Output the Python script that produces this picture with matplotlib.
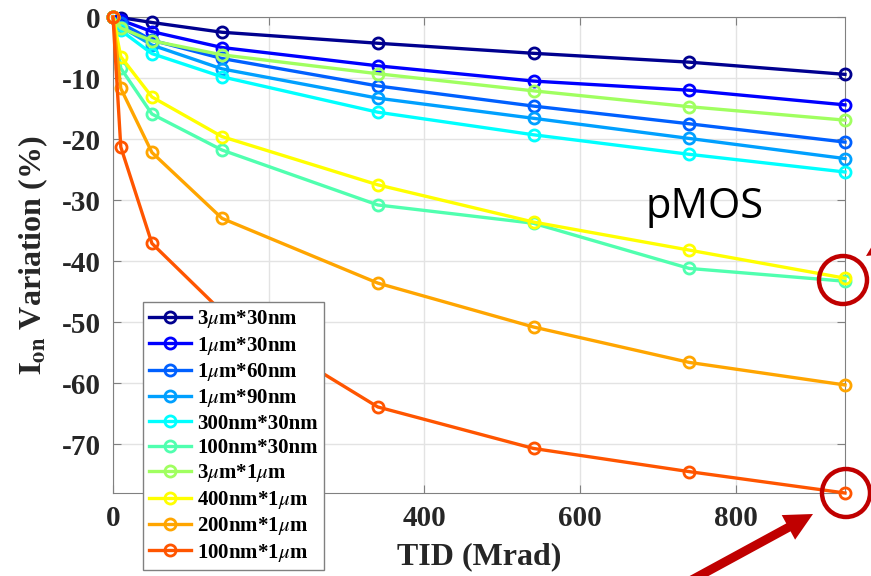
import matplotlib
matplotlib.use('Agg')
import matplotlib.pyplot as plt
from matplotlib.patches import Circle, FancyArrow
from matplotlib.transforms import IdentityTransform

plt.rcParams['font.family'] = ['Liberation Serif', 'DejaVu Serif']
plt.rcParams['mathtext.fontset'] = 'stix'
plt.rcParams['axes.unicode_minus'] = False

tid = [0, 10, 50, 140, 340, 540, 740, 940]
labels = [r'3$\mu$m*30nm', r'1$\mu$m*30nm', r'1$\mu$m*60nm', r'1$\mu$m*90nm',
          '300nm*30nm', '100nm*30nm', r'3$\mu$m*1$\mu$m', r'400nm*1$\mu$m',
          r'200nm*1$\mu$m', r'100nm*1$\mu$m']
xtick_vals = [0, 200, 400, 600, 800]
xtick_text = ['0', '', '400', '600', '800']   # 200 sits under the legend
ion_3u_30n   = [0, -0.1, -0.9, -2.5, -4.3, -5.95, -7.4, -9.4]
ion_1u_30n   = [0, -0.5, -2.4, -5.0, -8.0, -10.5, -12.0, -14.4]
ion_1u_60n   = [0, -1.0, -3.8, -6.8, -11.3, -14.6, -17.5, -20.5]
ion_1u_90n   = [0, -1.6, -4.6, -8.5, -13.3, -16.6, -19.9, -23.2]
ion_300_30n  = [0, -2.2, -6.0, -9.8, -15.6, -19.3, -22.5, -25.4]
ion_100_30n  = [0, -8.4, -15.9, -21.8, -30.8, -33.8, -41.2, -43.3]
ion_3u_1u    = [0, -1.8, -3.9, -6.2, -9.3, -12.1, -14.7, -16.9]
ion_400_1u   = [0, -6.5, -13.1, -19.6, -27.5, -33.6, -38.2, -42.8]
ion_200_1u   = [0, -11.7, -22.2, -33.0, -43.6, -50.8, -56.6, -60.3]
ion_100_1u   = [0, -21.3, -37.1, -48.3, -63.9, -70.7, -74.5, -78.0]
series = [ion_3u_30n, ion_1u_30n, ion_1u_60n, ion_1u_90n, ion_300_30n,
          ion_100_30n, ion_3u_1u, ion_400_1u, ion_200_1u, ion_100_1u]
colors = ['#00008F', '#0000FF', '#0060FF', '#00A0FF', '#00FFFF',
          '#50FFAF', '#A0FF60', '#FFFF00', '#FFA500', '#FF5500']

fig = plt.figure(figsize=(8.71, 5.76), dpi=100)
ax = fig.add_axes([113/871, 1 - 493/576, 732/871, 476/576])

for vals, c, lab in zip(series, colors, labels):
    ax.plot(tid, vals, '-o', color=c, lw=2.4, ms=8, mew=2, mfc='none',
            label=lab, clip_on=False, zorder=3)

ax.set_xlim(0, 940)
ax.set_ylim(-78, 0)
ax.set_xticks(xtick_vals)
ax.set_xticklabels(xtick_text)
ax.set_yticks([-70, -60, -50, -40, -30, -20, -10, 0])
ax.grid(color='#e3e3e3', lw=1)
ax.set_axisbelow(True)
for s in ax.spines.values():
    s.set_color('#808080')
ax.tick_params(direction='in', length=6, color='#808080', labelcolor='#262626',
               top=True, right=True, labelsize=21)
ax.tick_params(axis='y', pad=9)
ax.tick_params(axis='x', pad=9)
for t in ax.get_xticklabels() + ax.get_yticklabels():
    t.set_fontweight('bold')

ax.set_xlabel('TID (Mrad)', fontsize=23, fontweight='bold', color='#262626', labelpad=7)
ax.set_ylabel(r'$\mathbf{I}_{\mathbf{on}}$ Variation (%)', fontsize=23, fontweight='bold',
              color='#262626', labelpad=8)

leg = ax.legend(loc='upper left', bbox_to_anchor=(143/871, 1 - 302/576),
                bbox_transform=fig.transFigure, borderaxespad=0, fancybox=False,
                framealpha=1, edgecolor='#808080', prop={'weight': 'bold', 'size': 15},
                handlelength=2.0, handletextpad=0.3, labelspacing=0.21,
                borderpad=0.3)
leg.set_zorder(5)

fig.text(705/871, 1 - 207/576, 'pMOS', fontsize=30, family='Open Sans',
         ha='center', va='center', color='black')

# red highlight circles and arrows (pixel coords)
red = '#C00000'
for cx, cy in [(843, 576 - 280), (846, 576 - 493)]:
    fig.add_artist(Circle((cx, cy), 24, fill=False, ec=red, lw=3.2,
                          transform=IdentityTransform()))
fig.add_artist(FancyArrow(688, -6, 125, 68, width=9, head_width=28, head_length=28,
                          length_includes_head=True, color=red, lw=0,
                          transform=IdentityTransform()))
fig.add_artist(FancyArrow(905, 345, -39, -25, width=9, head_width=28, head_length=28,
                          length_includes_head=True, color=red, lw=0,
                          transform=IdentityTransform()))

plt.savefig('out.png', dpi=100)
